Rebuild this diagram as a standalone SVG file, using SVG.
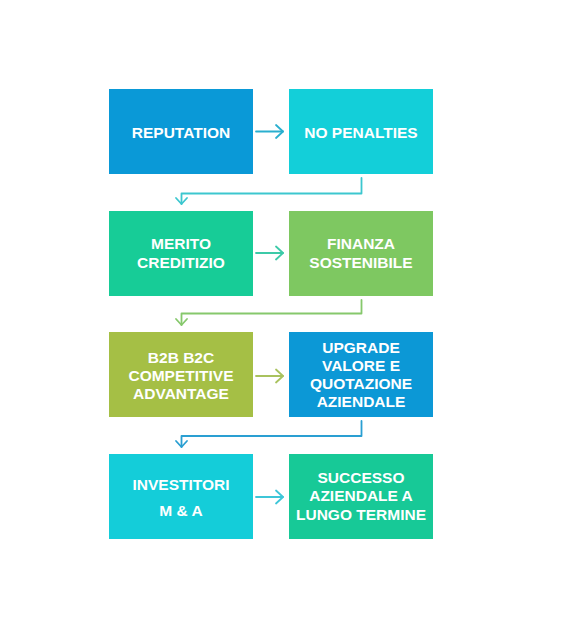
<svg xmlns="http://www.w3.org/2000/svg" width="561" height="628" viewBox="0 0 561 628">
<style>
.t{font-family:"Liberation Sans",Arial,sans-serif;font-weight:700;font-size:15.5px;fill:#ffffff;text-anchor:middle}
.c{fill:none;stroke-width:1.8;stroke-linecap:round;stroke-linejoin:round}
</style>
<rect width="561" height="628" fill="#ffffff"/>
<g id="n1"><rect x="109" y="89" width="144" height="85" fill="#0a99d7"/><text class="t" x="181" y="137.5">REPUTATION</text></g>
<g id="n2"><rect x="289" y="89" width="144" height="85" fill="#13cfd9"/><text class="t" x="361" y="137.5">NO PENALTIES</text></g>
<g id="n3"><rect x="109" y="211" width="144" height="85" fill="#17cc97"/><text class="t" x="181" y="248.5">MERITO</text><text class="t" x="181" y="267.5">CREDITIZIO</text></g>
<g id="n4"><rect x="289" y="211" width="144" height="85" fill="#7ec861"/><text class="t" x="361" y="248.5">FINANZA</text><text class="t" x="361" y="267.5">SOSTENIBILE</text></g>
<g id="n5"><rect x="109" y="332" width="144" height="85" fill="#a5bf45"/><text class="t" x="181" y="362.5">B2B B2C</text><text class="t" x="181" y="380.5">COMPETITIVE</text><text class="t" x="181" y="398.5">ADVANTAGE</text></g>
<g id="n6"><rect x="289" y="332" width="144" height="85" fill="#0c98d6"/><text class="t" x="361" y="352.5">UPGRADE</text><text class="t" x="361" y="370.5">VALORE E</text><text class="t" x="361" y="388.5">QUOTAZIONE</text><text class="t" x="361" y="407">AZIENDALE</text></g>
<g id="n7"><rect x="109" y="454" width="144" height="85" fill="#14cdd9"/><text class="t" x="181" y="489.5">INVESTITORI</text><text class="t" x="181" y="515.5">M &amp; A</text></g>
<g id="n8"><rect x="289" y="454" width="144" height="85" fill="#17c997"/><text class="t" x="361" y="482.5">SUCCESSO</text><text class="t" x="361" y="501">AZIENDALE A</text><text class="t" x="361" y="519.5">LUNGO TERMINE</text></g>
<g id="connectors">
<g stroke="#2aafcf" class="c"><path d="M256 131.5H283"/><path d="M276 125L283 131.5L276 138"/></g>
<g stroke="#3cc7cf" class="c"><path d="M361.5 178V193.5H181.5V204"/><path d="M176 198L181.5 204L187 198"/></g>
<g stroke="#3ccaa8" class="c"><path d="M256 253H283"/><path d="M276 246.5L283 253L276 259.5"/></g>
<g stroke="#86c86c" class="c"><path d="M361.5 300V313.5H181.5V325"/><path d="M176 319L181.5 325L187 319"/></g>
<g stroke="#a9c25e" class="c"><path d="M256 376H283"/><path d="M276 369.5L283 376L276 382.5"/></g>
<g stroke="#2a9fd2" class="c"><path d="M361.5 421V436H181.5V447"/><path d="M176 441L181.5 447L187 441"/></g>
<g stroke="#3ec6d8" class="c"><path d="M256 497H283"/><path d="M276 490.5L283 497L276 503.5"/></g>
</g>
</svg>
